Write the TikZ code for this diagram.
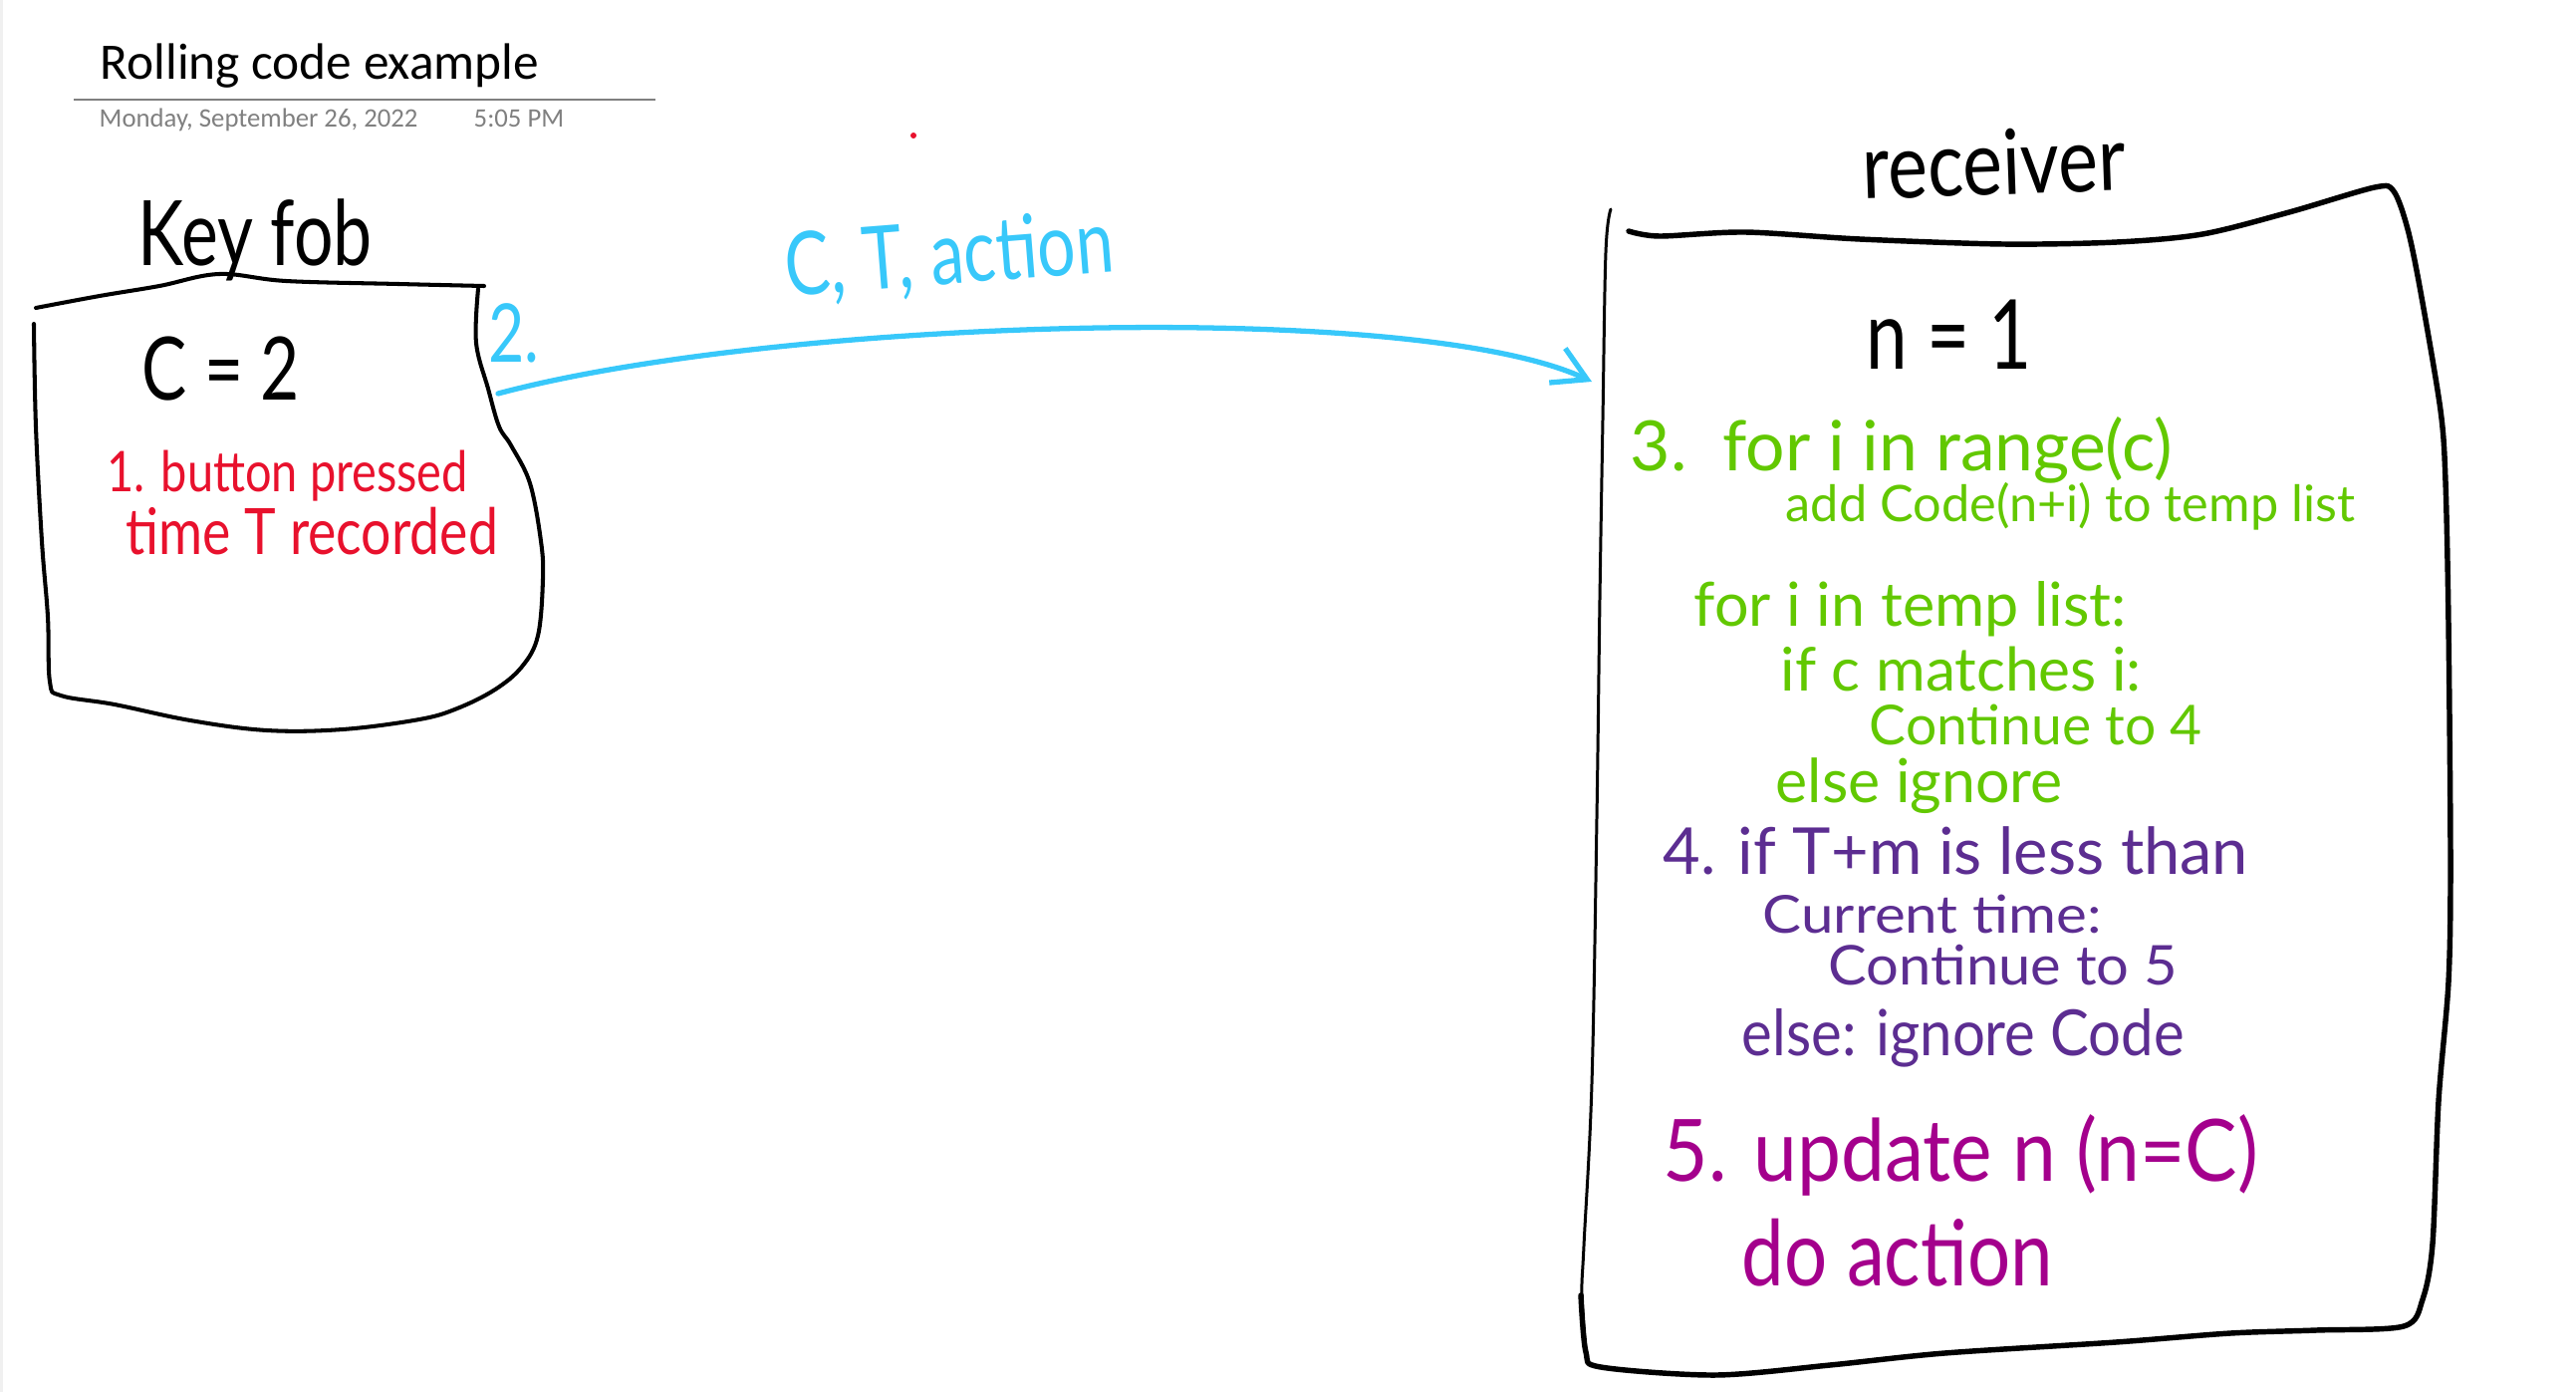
\documentclass[tikz,border=0pt]{standalone}
\usepackage{fontspec}
\usepackage{graphicx}
\usetikzlibrary{arrows.meta}
\newfontfamily\notefont{Carlito}
\newfontfamily\handfont{Lato}
\definecolor{headgray}{RGB}{128,128,128}
\definecolor{inkblue}{RGB}{56,200,250}
\definecolor{inkred}{RGB}{232,17,45}
\definecolor{inkgreen}{RGB}{98,200,0}
\definecolor{inkpurple}{RGB}{92,45,145}
\definecolor{inkmagenta}{RGB}{164,0,140}
\newcommand{\scrawl}[3][1.2]{\scalebox{1}[#1]{\resizebox{#2}{!}{\handfont #3}}}

\begin{document}
\begin{tikzpicture}[x=0.01cm, y=-0.01cm,
  hand/.style={anchor=base west, inner sep=0pt},
  header/.style={anchor=base west, inner sep=0pt},
  sketch/.style={line width=1.15pt, line cap=round, line join=round},
  wire/.style={draw=inkblue, line width=1.5pt, line cap=round,
    -{Straight Barb[length=3.3mm, width=3.8mm]}}]

\useasboundingbox (0,0) rectangle (2586,1397);
\fill[black!6] (0,0) rectangle (3,1397);

% page header
\node[header, font=\notefont\fontsize{14.6}{17}\selectfont] (title) at (100,80) {Rolling code example};
\draw[headgray, line width=0.6pt] (74,100) -- (658,100);
\node[header, text=headgray, font=\notefont\fontsize{7.6}{9}\selectfont] (date) at (99,128) {Monday, September 26, 2022};
\node[header, text=headgray, font=\notefont\fontsize{7.6}{9}\selectfont] (clock) at (475,128) {5:05 PM};
\fill[inkred] (917,136) circle (3);

% key fob
\draw[sketch] plot[smooth, tension=0.6] coordinates {(36,309) (100,297) (160,287) (220,275) (287,282) (400,285) (486,287)};
\draw[sketch] plot[smooth, tension=0.6] coordinates {(480,290) (478,344) (490,390) (501,428) (513,447) (532,485) (543,543) (545,581) (540,638) (524,669) (497,692) (459,711) (421,722) (344,732) (268,733) (191,723) (115,707) (61,698) (50,684) (48,619) (42,543) (36,428) (34,325)};
\node[hand] (fob) at (138,267) {\scrawl[1.3]{2.35cm}{Key fob}};
\node[hand] (code) at (142,401) {\scrawl[1.3]{1.58cm}{C = 2}};
\node[hand, text=inkred] (press) at (107,493) {\scrawl{3.62cm}{1. button pressed}};
\node[hand, text=inkred] (stamp) at (126,556) {\scrawl{3.73cm}{time T recorded}};
\node[hand, text=inkblue] (send lbl) at (490,363) {\scrawl[1.3]{0.51cm}{2.}};

% message
\coordinate (send) at (500,395);
\coordinate (recv) at (1598,383);
\draw[wire] (send) .. controls (780,320) and (1420,300) .. (recv);
\node[hand, text=inkblue, rotate=4.5] (msg) at (790,298) {\scrawl[1.3]{3.30cm}{C, T, action}};

% receiver
\draw[sketch, line width=0.85pt] plot[smooth, tension=0.6] coordinates {(1617,210) (1612,253) (1609,420) (1606,600) (1603,820) (1598,1087) (1590,1250) (1588,1300) (1592,1357)};
\draw[sketch, line width=1.55pt] plot[smooth, tension=0.5] coordinates {(1635,232) (1666,237) (1752,233) (1867,240) (2011,245) (2125,243) (2211,235) (2298,213) (2384,188) (2403,192) (2417,230) (2430,293) (2450,412) (2455,484) (2458,627) (2460,866) (2458,985) (2448,1105) (2442,1248) (2432,1304) (2413,1331) (2325,1335) (2239,1338) (2124,1347) (1952,1358) (1837,1370) (1722,1380) (1607,1372) (1592,1357) (1587,1300)};
\node[hand, rotate=2] (rx) at (1870,200) {\scrawl{2.64cm}{receiver}};
\node[hand] (count) at (1873,370) {\scrawl[1.3]{1.66cm}{n = 1}};

\node[hand, text=inkgreen] (s3a) at (1636,472) {\scrawl[1]{5.44cm}{3.\ \ for i in range(c)}};
\node[hand, text=inkgreen] (s3b) at (1792,523) {\scrawl[1]{5.71cm}{add Code(n+i) to temp list}};
\node[hand, text=inkgreen] (s3c) at (1700,628) {\scrawl[1]{4.34cm}{for i in temp list:}};
\node[hand, text=inkgreen] (s3d) at (1787,693) {\scrawl[1]{3.62cm}{if c matches i:}};
\node[hand, text=inkgreen] (s3e) at (1876,747) {\scrawl[1]{3.34cm}{Continue to 4}};
\node[hand, text=inkgreen] (s3f) at (1782,805) {\scrawl[1]{2.88cm}{else ignore}};

\node[hand, text=inkpurple] (s4a) at (1669,877) {\scrawl[1]{5.87cm}{4. if T+m is less than}};
\node[hand, text=inkpurple] (s4b) at (1769,936) {\scrawl[0.9]{3.40cm}{Current time:}};
\node[hand, text=inkpurple] (s4c) at (1835,988) {\scrawl[0.95]{3.50cm}{Continue to 5}};
\node[hand, text=inkpurple] (s4d) at (1748,1059) {\scrawl[1.1]{4.44cm}{else: ignore Code}};

\node[hand, text=inkmagenta] (s5a) at (1669,1185) {\scrawl[1.1]{5.97cm}{5. update n (n=C)}};
\node[hand, text=inkmagenta] (s5b) at (1748,1290) {\scrawl{3.12cm}{do action}};
\end{tikzpicture}
\end{document}
